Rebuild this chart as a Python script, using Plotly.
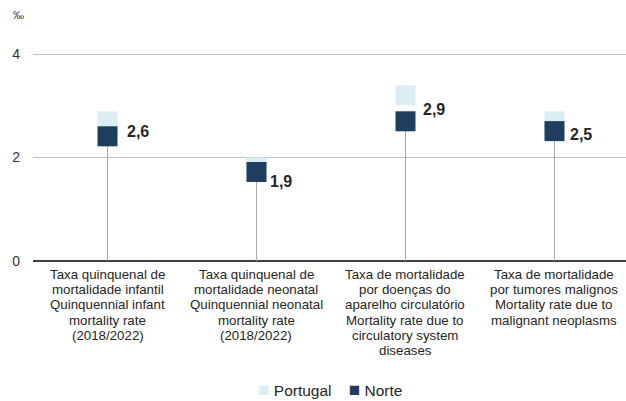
import plotly.graph_objects as go

categories = [
    "Taxa quinquenal de<br>mortalidade infantil<br>Quinquennial infant<br>mortality rate<br>(2018/2022)",
    "Taxa quinquenal de<br>mortalidade neonatal<br>Quinquennial neonatal<br>mortality rate<br>(2018/2022)",
    "Taxa de mortalidade<br>por doenças do<br>aparelho circulatório<br>Mortality rate due to<br>circulatory system<br>diseases",
    "Taxa de mortalidade<br>por tumores malignos<br>Mortality rate due to<br>malignant neoplasms",
]
portugal = [2.70, 1.81, 3.20, 2.70]
norte = [2.41, 1.72, 2.70, 2.51]
norte_labels = ["2,6", "1,9", "2,9", "2,5"]
y_ticks = [0, 2, 4]

FONT = "Liberation Sans, Arial, sans-serif"
C_PT = "#daeef3"
C_NO = "#1f3d5f"

xs = list(range(len(categories)))

fig = go.Figure()

# stems
sx, sy = [], []
for i, v in zip(xs, norte):
    sx += [i, i, None]
    sy += [0, v, None]
fig.add_trace(go.Scatter(x=sx, y=sy, mode="lines", line=dict(color="#a6a6a6", width=1),
                         showlegend=False, hoverinfo="skip"))

fig.add_trace(go.Scatter(x=xs, y=portugal, mode="markers", name="Portugal",
                         marker=dict(symbol="square", size=20, color=C_PT, line=dict(width=0)),
                         showlegend=False))
fig.add_trace(go.Scatter(x=xs, y=norte, mode="markers", name="Norte",
                         marker=dict(symbol="square", size=20, color=C_NO, line=dict(width=0)),
                         showlegend=False))

# value labels
label_xshift = [17, 12, 16, 14]
label_yshift = [5, -9, 12, -3]
for i, v, t, dx, dy in zip(xs, norte, norte_labels, label_xshift, label_yshift):
    fig.add_annotation(x=i, y=v, text=f"<b>{t}</b>", showarrow=False, xanchor="left",
                       yanchor="middle", xshift=dx, yshift=dy,
                       font=dict(family=FONT, size=16, color="#262626"))

# category labels, one annotation per line
for i, cat in zip(xs, categories):
    for j, line in enumerate(cat.split("<br>")):
        fig.add_annotation(x=i, y=0, yref="paper", text=line, showarrow=False,
                           xanchor="center", yanchor="middle", yshift=-(13.5 + 15.2 * j),
                           font=dict(family=FONT, size=13.3, color="#262626"))

# unit
fig.add_annotation(x=0, y=1, xref="paper", yref="paper", text="‰", showarrow=False,
                   xanchor="left", yanchor="middle", xshift=-22, yshift=38,
                   font=dict(family=FONT, size=11, color="#333333"))

# legend (custom, compact)
legend_text = (f"<span style='color:{C_PT};font-size:19px'>■</span> Portugal"
               f"&nbsp;&nbsp;&nbsp;&nbsp;<span style='color:{C_NO};font-size:19px'>■</span> Norte")
fig.add_annotation(x=0.5, y=0, xref="paper", yref="paper", text=legend_text, showarrow=False,
                   xanchor="center", yanchor="middle", yshift=-128,
                   font=dict(family=FONT, size=15.5, color="#262626"))

fig.update_xaxes(range=[-0.5, 3.48], showgrid=False, zeroline=False, showticklabels=False,
                 showline=False, fixedrange=True, automargin=False)
fig.update_yaxes(range=[0, 4.02], tickvals=y_ticks, ticktext=[str(v) for v in y_ticks],
                 showgrid=True, gridcolor="#bfbfbf", gridwidth=1,
                 zeroline=True, zerolinecolor="#404040", zerolinewidth=2,
                 ticks="", ticklabelstandoff=12, automargin=False,
                 tickfont=dict(family=FONT, size=14, color="#333333"))

fig.update_layout(
    width=626, height=401, autosize=False,
    margin=dict(l=33, r=0, t=53, b=139.5, autoexpand=False),
    plot_bgcolor="white", paper_bgcolor="white",
    font=dict(family=FONT, color="#333333"),
    showlegend=False,
)

fig.write_html("out.html", config={"displayModeBar": False},
               post_script="document.body.style.margin='0';document.body.style.overflow='hidden';")
